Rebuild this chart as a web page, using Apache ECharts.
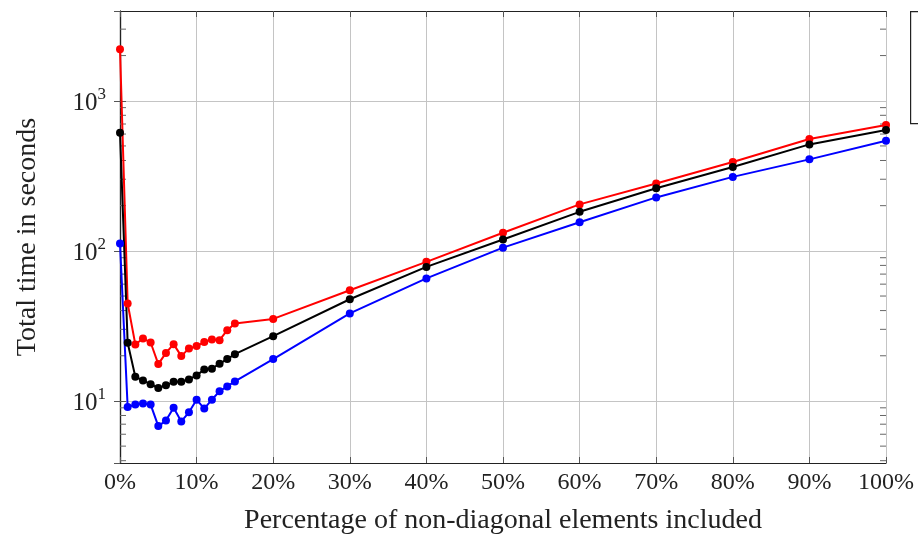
<!DOCTYPE html>
<html>
<head>
<meta charset="utf-8">
<script src="https://cdn.jsdelivr.net/npm/echarts@6/dist/echarts.min.js"></script>
<style>
html,body{margin:0;padding:0;background:#fff;}
#chart{width:918px;height:538px;}
</style>
</head>
<body>
<div id="chart"></div>
<script>
// Percentage of non-diagonal elements included
const percentages = [0,1,2,3,4,5,6,7,8,9,10,11,12,13,14,15,20,30,40,50,60,70,80,90,100];
// Total time in seconds
const redTimes   = [2203,44.6,23.8,26.1,24.5,17.6,20.9,23.9,19.9,22.4,23.2,24.7,25.7,25.4,29.6,32.8,35.2,54.6,84.5,132,204,281,391,556,689];
const blackTimes = [612,24.4,14.5,13.7,12.9,12.2,12.7,13.4,13.4,13.9,14.8,16.2,16.4,17.7,19.0,20.5,27.0,47.6,78.2,119,182,261,362,512,638];
const blueTimes  = [112,9.1,9.46,9.6,9.46,6.8,7.4,9.0,7.3,8.4,10.2,8.9,10.2,11.6,12.5,13.5,19.0,38.3,65.5,105,155,227,311,407,541];
const xTicks = [0,10,20,30,40,50,60,70,80,90,100];
const yMin = 3.86, yMax = 3963;

const FONT = 'Liberation Serif';
const pairs = arr => percentages.map((x, i) => [x, arr[i]]);

// minor tick values of the log axis (2..9 x 10^k), within the axis range
const minorVals = [];
for (let k = 0; k <= 3; k++) {
  for (let m = 2; m <= 9; m++) {
    const v = m * Math.pow(10, k);
    if (v > yMin && v < yMax) minorVals.push(v);
  }
}

const chart = echarts.init(document.getElementById('chart'), null, {renderer: 'canvas'});

function mkSeries(name, data, color) {
  return {
    name: name, type: 'line', data: pairs(data),
    xAxisIndex: 0, yAxisIndex: 0,
    symbol: 'circle', symbolSize: 8,
    lineStyle: {color: color, width: 2},
    itemStyle: {color: color},
    animation: false, z: 3
  };
}

const option = {
  animation: false,
  backgroundColor: '#fff',
  grid: {left: 120, right: 32, top: 11, bottom: 75, show: false, containLabel: false, outerBoundsMode: 'none'},
  xAxis: [{
    type: 'value', min: 0, max: 100, interval: 10, position: 'bottom',
    name: 'Percentage of non-diagonal elements included',
    nameLocation: 'middle', nameGap: 44,
    nameTextStyle: {fontFamily: FONT, fontSize: 28, color: '#222'},
    axisLine: {show: true, lineStyle: {color: '#222', width: 1.2}},
    axisTick: {show: true, inside: true, length: 6, lineStyle: {color: '#555'}},
    axisLabel: {fontFamily: FONT, fontSize: 24, color: '#222', margin: 8,
      formatter: v => xTicks.indexOf(v) >= 0 ? v + '%' : ''},
    splitLine: {show: true, lineStyle: {color: '#c4c4c4', width: 1}}
  }, {
    type: 'value', min: 0, max: 100, interval: 10, position: 'top',
    axisLine: {show: true, lineStyle: {color: '#222', width: 1.2}},
    axisTick: {show: true, inside: true, length: 6, lineStyle: {color: '#555'}},
    axisLabel: {show: false},
    splitLine: {show: false}
  }],
  yAxis: [{
    type: 'log', logBase: 10, min: yMin, max: yMax, position: 'left',
    name: 'Total time in seconds',
    nameLocation: 'middle', nameGap: 78, nameRotate: 90,
    nameTextStyle: {fontFamily: FONT, fontSize: 28, color: '#222'},
    axisLine: {show: true, lineStyle: {color: '#222', width: 1.2}},
    axisTick: {show: true, inside: true, length: 6, lineStyle: {color: '#555'}},
    axisLabel: {
      showMinLabel: false, showMaxLabel: false, margin: 14,
      formatter: v => {
        const e = Math.log10(v);
        if (Math.abs(e - Math.round(e)) > 1e-6) return '';
        return '{b|10}{s|' + Math.round(e) + '}';
      },
      rich: {
        b: {fontFamily: FONT, fontSize: 25, color: '#222', lineHeight: 30, verticalAlign: 'bottom'},
        s: {fontFamily: FONT, fontSize: 17, color: '#222', lineHeight: 30, verticalAlign: 'top'}
      }
    },
    splitLine: {show: true, lineStyle: {color: '#c4c4c4', width: 1}}
  }, {
    type: 'log', logBase: 10, min: yMin, max: yMax, position: 'right',
    axisLine: {show: true, lineStyle: {color: '#222', width: 1.2}},
    axisTick: {show: true, inside: true, length: 6, lineStyle: {color: '#555'}},
    axisLabel: {show: false},
    splitLine: {show: false}
  }],
  series: [
    {
      name: 'minor ticks', type: 'custom', xAxisIndex: 0, yAxisIndex: 0,
      data: minorVals.map(v => [0, v]), silent: true, z: 1,
      renderItem: (params, api) => {
        const v = api.value(1);
        const p = api.coord([0, v]);
        const q = api.coord([100, v]);
        return {type: 'group', children: [
          {type: 'line', shape: {x1: p[0], y1: p[1], x2: p[0] + 6, y2: p[1]}, style: {stroke: '#666', lineWidth: 1}},
          {type: 'line', shape: {x1: q[0], y1: q[1], x2: q[0] - 6, y2: q[1]}, style: {stroke: '#666', lineWidth: 1}}
        ]};
      }
    },
    mkSeries('Blue', blueTimes, '#0000ff'),
    mkSeries('Red', redTimes, '#ff0000'),
    mkSeries('Black', blackTimes, '#000000')
  ],
  graphic: [{
    type: 'rect', left: 910, top: 11,
    shape: {x: 0, y: 0, width: 60, height: 112},
    style: {fill: '#fff', stroke: '#222', lineWidth: 1.2}
  }]
};
chart.setOption(option);
</script>
</body>
</html>
